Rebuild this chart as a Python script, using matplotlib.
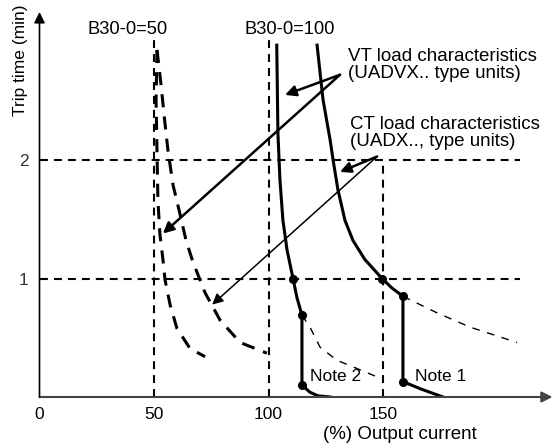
import numpy as np
import matplotlib.pyplot as plt

plt.rcParams['font.family'] = ['Liberation Sans', 'DejaVu Sans']

# CT load curves for B30-0=50 (dashed)
ct50_inner_x = [51.3, 50.9, 51.3, 51.7, 52.6, 53.9, 54.8, 57.0, 60.0, 65.7, 72.3]
ct50_inner_y = [2.93, 2.51, 2.08, 1.66, 1.37, 1.16, 0.99, 0.78, 0.58, 0.41, 0.34]
ct50_outer_x = [51.3, 53.1, 54.4, 56.1, 58.3, 61.4, 64.0, 67.0, 72.3, 78.8, 87.6, 99.3]
ct50_outer_y = [2.93, 2.63, 2.38, 2.08, 1.79, 1.54, 1.32, 1.14, 0.88, 0.65, 0.46, 0.37]

# solid curves for B30-0=100
vt_x = [103.6, 104.1, 105.0, 106.3, 108.1, 110.7, 112.4, 114.6, 114.6, 118.1, 121.6, 126.9]
vt_y = [2.97, 2.23, 1.83, 1.49, 1.24, 1.00, 0.84, 0.69, 0.10, 0.04, 0.01, 0.0]
ct_x = [121.2, 123.8, 126.9, 128.2, 130.3, 133.4, 136.9, 142.1, 149.6, 153.9,
        158.7, 158.7, 166.2, 176.2]
ct_y = [2.97, 2.51, 2.17, 2.00, 1.75, 1.49, 1.32, 1.16, 1.00, 0.92,
        0.85, 0.13, 0.07, 0.0]

# thin dashed continuations
vt_ext_x = [114.6, 118.1, 122.5, 129.9, 147.4]
vt_ext_y = [0.69, 0.59, 0.42, 0.31, 0.17]
ct_ext_x = [158.7, 173.6, 188.0, 208.5]
ct_ext_y = [0.85, 0.71, 0.59, 0.46]

# break points
vt_dot_x = [110.7, 114.6, 114.6]
vt_dot_y = [1.00, 0.69, 0.10]
ct_dot_x = [149.6, 158.7, 158.7]
ct_dot_y = [1.00, 0.85, 0.13]

xticks = [0, 50, 100, 150]
yticks = [1, 2]
base_lines = [50, 100]
base_labels = ['B30-0=50', 'B30-0=100']

fig = plt.figure(figsize=(5.54, 4.43), dpi=100)
ax = fig.add_axes([39.5 / 554, 46 / 443, 513 / 554, 385 / 443])
ax.set_xlim(0, 224)
ax.set_ylim(0, 3.25)
for s in ax.spines.values():
    s.set_visible(False)

ax.set_xticks(xticks)
ax.set_yticks(yticks)
ax.tick_params(length=0, labelsize=12.5)
ax.tick_params(axis='x', pad=7)
ax.tick_params(axis='y', pad=8, labelcolor='#333333')

# axes with arrows
ax.annotate('', xy=(224, 0), xytext=(0, 0), annotation_clip=False,
            arrowprops=dict(arrowstyle='-|>', color='#444444', lw=1.5,
                            mutation_scale=16, shrinkA=0, shrinkB=0))
ax.annotate('', xy=(0, 3.25), xytext=(0, 0), annotation_clip=False,
            arrowprops=dict(arrowstyle='-|>', color='black', lw=1.2,
                            mutation_scale=16, shrinkA=0, shrinkB=0))

# reference grid lines
gdash = (3.8, 2.9)
for yv in yticks:
    ax.plot([0, 210], [yv, yv], color='black', lw=1.5, dashes=gdash)
for xv in base_lines:
    ax.plot([xv, xv], [0, 3.05], color='black', lw=1.5, dashes=gdash)
ax.plot([150, 150], [0, 2], color='black', lw=1.5, dashes=gdash)

for xv, lab in zip([21.0, 89.5], base_labels):
    ax.text(xv, 3.10, lab, fontsize=13.2, ha='left', va='center')

# curves
ax.plot(ct50_inner_x, ct50_inner_y, color='black', lw=2.2, dashes=(4.3, 3.0))
ax.plot(ct50_outer_x, ct50_outer_y, color='black', lw=2.2, dashes=(4.3, 3.0))
ax.plot(vt_x, vt_y, color='black', lw=2.2)
ax.plot(ct_x, ct_y, color='black', lw=2.2)
ax.plot(vt_ext_x, vt_ext_y, color='black', lw=1.0, dashes=(5.5, 5.5))
ax.plot(ct_ext_x, ct_ext_y, color='black', lw=1.0, dashes=(5.5, 5.5))
ax.plot(vt_dot_x, vt_dot_y, 'o', color='black', ms=5.5)
ax.plot(ct_dot_x, ct_dot_y, 'o', color='black', ms=5.5)

ax.text(118.1, 0.17, 'Note 2', fontsize=12.5, ha='left', va='center')
ax.text(164.0, 0.17, 'Note 1', fontsize=12.5, ha='left', va='center')

# annotations
ax.text(134.7, 2.95, 'VT load characteristics\n(UADVX.. type units)',
        fontsize=13.5, ha='left', va='top', linespacing=1.0)
ax.text(135.6, 2.37, 'CT load characteristics\n(UADX.., type units)',
        fontsize=13.5, ha='left', va='top', linespacing=1.0)

vt_start = (131.2, 2.72)
for tgt in [(107.2, 2.55), (53.9, 1.38)]:
    ax.annotate('', xy=tgt, xytext=vt_start,
                arrowprops=dict(arrowstyle='-|>', color='black', lw=1.8,
                                mutation_scale=16, shrinkA=0, shrinkB=0))
ct_start = (147.4, 2.03)
for tgt, w in [((131.2, 1.90), 1.8), ((75.4, 0.78), 1.1)]:
    ax.annotate('', xy=tgt, xytext=ct_start,
                arrowprops=dict(arrowstyle='-|>', color='black', lw=w,
                                mutation_scale=16, shrinkA=0, shrinkB=0))

ax.text(157.4, -0.32, '(%) Output current', fontsize=13.5, ha='center',
        va='center', clip_on=False)
ax.text(-8.5, 2.84, 'Trip time (min)', fontsize=12.5, rotation=90,
        ha='center', va='center', clip_on=False)

fig.savefig('out.png', dpi=100)
